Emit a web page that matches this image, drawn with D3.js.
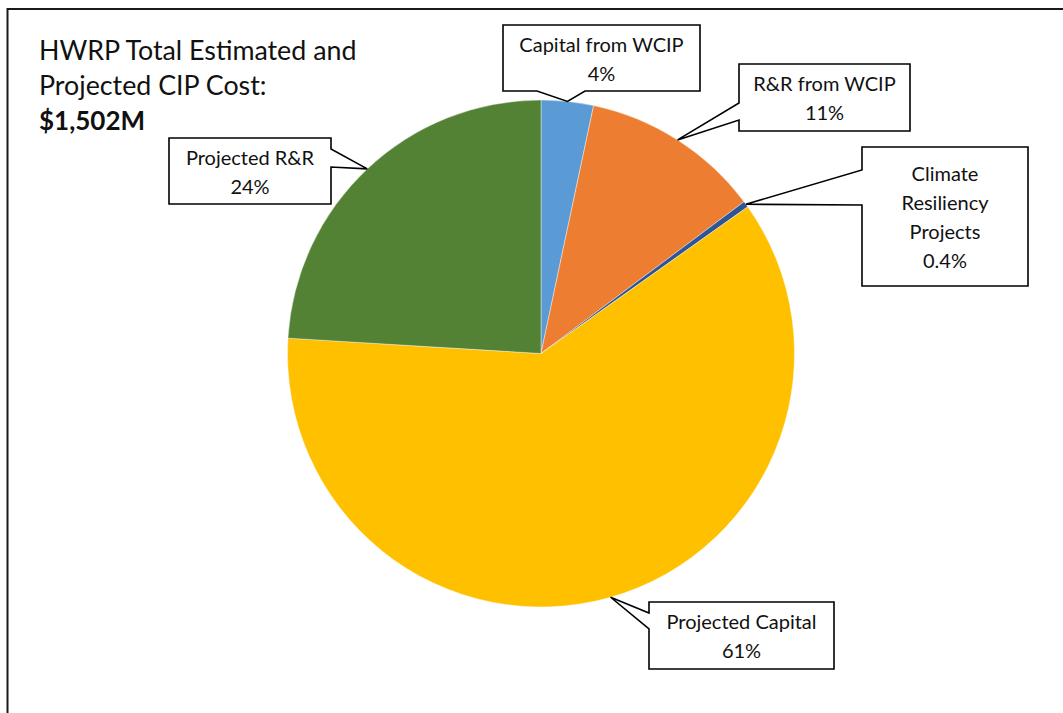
<!DOCTYPE html>
<html>
<head>
<meta charset="utf-8">
<script src="https://cdn.jsdelivr.net/npm/d3@7"></script>
<style>
  html, body { margin: 0; padding: 0; background: #fff; }
  svg { display: block; }
  text { font-family: Lato, "Open Sans", sans-serif; fill: #111; }
</style>
</head>
<body>
<svg id="chart" width="1063" height="713"></svg>
<script>
// ---- data ----
const categories = ["Capital from WCIP", "R&R from WCIP", "Climate Resiliency Projects", "Projected Capital", "Projected R&R"];
const costsM = [50, 172, 6, 913, 361];          // $M, total 1,502
const labelPercents = ["4%", "11%", "0.4%", "61%", "24%"];
const labelLines = [["Capital from WCIP"], ["R&R from WCIP"], ["Climate", "Resiliency", "Projects"], ["Projected Capital"], ["Projected R&R"]];
const titleLines = ["HWRP Total Estimated and", "Projected CIP Cost:"];
const totalLabel = "$1,502M";
const colors = ["#5B9BD5", "#ED7D31", "#2F5597", "#FFC000", "#548235"];

// ---- layout ----
const W = 1063, H = 713;
const cx = 541, cy = 353.5, R = 253.5;
const boxes = [
  { x: 503, y: 25,  w: 197, h: 66,  side: "bottom", b: [537, 585] },
  { x: 739, y: 64,  w: 171, h: 67,  side: "left",   b: [103, 120] },
  { x: 862, y: 147, w: 166, h: 139, side: "left",   b: [170, 205] },
  { x: 649, y: 602, w: 185, h: 67,  side: "left",   b: [613, 629] },
  { x: 169, y: 138, w: 162, h: 66,  side: "right",  b: [149, 167] }
];
const lineGap = 29;

const svg = d3.select("#chart");

// outer frame
svg.append("rect")
  .attr("x", 7.5).attr("y", 9).attr("width", W + 20).attr("height", H + 20)
  .attr("fill", "none").attr("stroke", "#1a1a1a").attr("stroke-width", 2);

// title
const title = svg.append("g");
titleLines.forEach((t, i) => {
  title.append("text").attr("x", 39).attr("y", 60 + i * 35)
    .style("font-size", "26.8px").text(t);
});
title.append("text").attr("x", 39).attr("y", 130)
  .style("font-size", "26px").style("font-weight", "bold").text(totalLabel);

// pie
const pie = d3.pie().sort(null).value(d => d)(costsM);
const arc = d3.arc().innerRadius(0).outerRadius(R);
const edge = d3.arc().innerRadius(R).outerRadius(R);
const g = svg.append("g").attr("transform", `translate(${cx},${cy})`);
g.selectAll("path").data(pie).join("path")
  .attr("d", arc)
  .attr("fill", (d, i) => colors[i])
  .attr("stroke", "#fff").attr("stroke-width", 0.4);

// callouts
const calls = svg.append("g");
pie.forEach((d, i) => {
  const bx = boxes[i];
  const [tx0, ty0] = edge.centroid(d);
  const tx = tx0 + cx, ty = ty0 + cy;
  const x0 = bx.x, y0 = bx.y, x1 = bx.x + bx.w, y1 = bx.y + bx.h;
  let pts;
  if (bx.side === "bottom") {
    pts = [[x0, y0], [x1, y0], [x1, y1], [bx.b[1], y1], [tx, ty], [bx.b[0], y1], [x0, y1]];
  } else if (bx.side === "left") {
    pts = [[x0, y0], [x1, y0], [x1, y1], [x0, y1], [x0, bx.b[1]], [tx, ty], [x0, bx.b[0]]];
  } else {
    pts = [[x0, y0], [x1, y0], [x1, bx.b[0]], [tx, ty], [x1, bx.b[1]], [x1, y1], [x0, y1]];
  }
  calls.append("path")
    .attr("d", d3.line()(pts) + "Z")
    .attr("fill", "#fff").attr("stroke", "#000").attr("stroke-width", 1.6)
    .attr("stroke-linejoin", "miter");
  const lines = labelLines[i].concat([labelPercents[i]]);
  const n = lines.length;
  const base = y0 + (bx.h - (n - 1) * lineGap) / 2 + 8;
  lines.forEach((t, k) => {
    calls.append("text")
      .attr("x", (x0 + x1) / 2).attr("y", base + k * lineGap)
      .attr("text-anchor", "middle")
      .style("font-size", "20px").text(t);
  });
});
</script>
</body>
</html>
